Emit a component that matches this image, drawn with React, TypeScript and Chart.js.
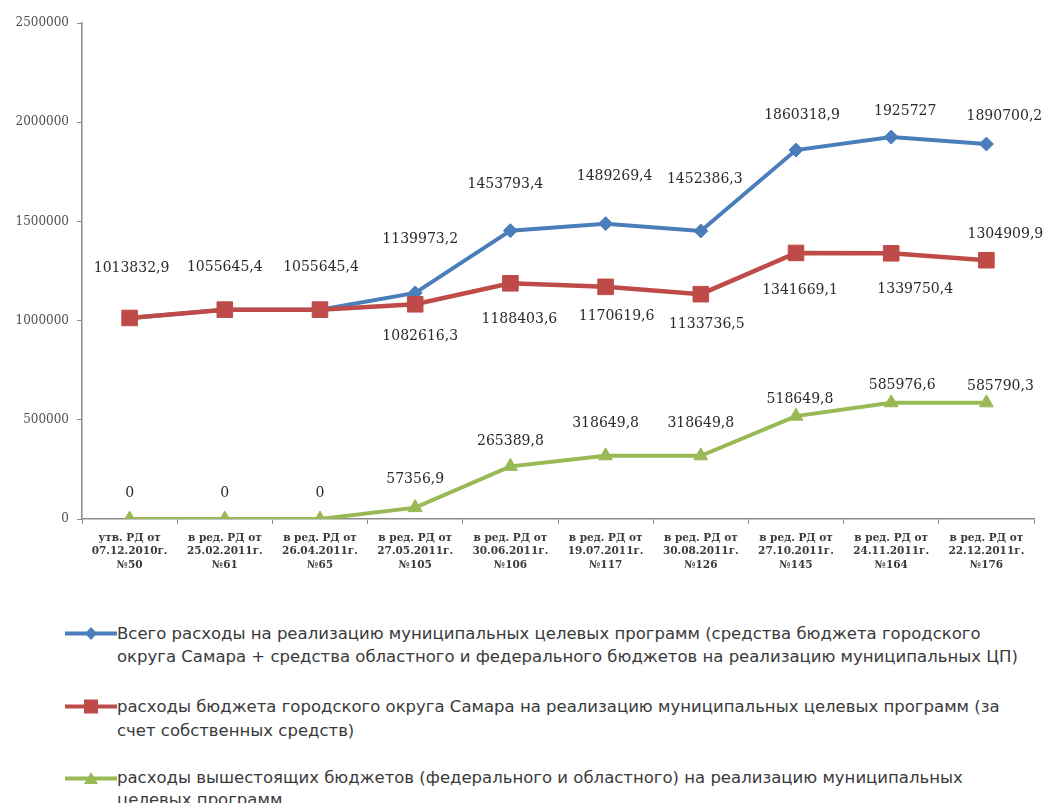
import React, { useEffect, useRef } from "react";
import { Chart, registerables } from "chart.js";

Chart.register(...registerables);

const categories: string[][] = [
  ["утв. РД от", "07.12.2010г.", "№50"],
  ["в ред. РД от", "25.02.2011г.", "№61"],
  ["в ред. РД от", "26.04.2011г.", "№65"],
  ["в ред. РД от", "27.05.2011г.", "№105"],
  ["в ред. РД от", "30.06.2011г.", "№106"],
  ["в ред. РД от", "19.07.2011г.", "№117"],
  ["в ред. РД от", "30.08.2011г.", "№126"],
  ["в ред. РД от", "27.10.2011г.", "№145"],
  ["в ред. РД от", "24.11.2011г.", "№164"],
  ["в ред. РД от", "22.12.2011г.", "№176"],
];

const totalValues = [
  1013832.9, 1055645.4, 1055645.4, 1139973.2, 1453793.4, 1489269.4, 1452386.3,
  1860318.9, 1925727, 1890700.2,
];
const cityValues = [
  1013832.9, 1055645.4, 1055645.4, 1082616.3, 1188403.6, 1170619.6, 1133736.5,
  1341669.1, 1339750.4, 1304909.9,
];
const upperValues = [
  0, 0, 0, 57356.9, 265389.8, 318649.8, 318649.8, 518649.8, 585976.6, 585790.3,
];

const yMin = 0;
const yMax = 2500000;
const yStep = 500000;

const legendTotal = [
  "Всего расходы на реализацию муниципальных целевых программ (средства бюджета городского",
  "округа Самара + средства областного и федерального бюджетов на реализацию муниципальных ЦП)",
];
const legendCity = [
  "расходы бюджета городского округа Самара на реализацию муниципальных целевых программ (за",
  "счет собственных средств)",
];
const legendUpper = [
  "расходы вышестоящих бюджетов (федерального и областного) на реализацию муниципальных",
  "целевых программ",
];

// label placement (pixel offsets from the point), styling only
const totalLabelOffsets: (number[] | null)[] = [
  [2, -50], [0, -42], [1, -42], [5, -54], [-5, -46], [9, -47], [4, -52], [6, -35], [14, -26], [18, -28],
];
const cityLabelOffsets: (number[] | null)[] = [
  null, null, null, [5, 32], [9, 36], [11, 30], [6, 30], [4, 37], [24, 36], [19, -26],
];
const upperLabelOffsets: (number[] | null)[] = [
  [0, -26], [0, -26], [0, -26], [0, -28], [0, -25], [0, -32], [0, -32], [4, -17], [11, -17], [14, -16],
];

const BLUE = "#4A7EBB";
const RED = "#BE4B48";
const GREEN = "#98B954";

const fmt = (v: number) => String(v).replace(".", ",");

const dataLabelPlugin = {
  id: "pointValueLabels",
  afterDatasetsDraw(chart: any) {
    const ctx = chart.ctx;
    const offsetsList = [totalLabelOffsets, cityLabelOffsets, upperLabelOffsets];
    ctx.save();
    ctx.font = '14px "DejaVu Serif"';
    ctx.fillStyle = "#2a2a2a";
    ctx.textAlign = "center";
    ctx.textBaseline = "middle";
    chart.data.datasets.forEach((ds: any, i: number) => {
      const meta = chart.getDatasetMeta(i);
      const offs = offsetsList[i];
      meta.data.forEach((pt: any, j: number) => {
        const o = offs[j];
        if (!o) return;
        ctx.fillText(fmt(ds.data[j]), pt.x + o[0], pt.y + o[1]);
      });
    });
    ctx.restore();
  },
};

function LegendMarker({ color, shape }: { color: string; shape: string }) {
  let m: React.ReactNode = null;
  if (shape === "diamond") {
    m = <polygon points="26,5 32,11.5 26,18 20,11.5" fill={color} />;
  } else if (shape === "square") {
    m = <rect x={19} y={4.5} width={14} height={14} fill={color} />;
  } else {
    m = <polygon points="26,5 33,17 19,17" fill={color} />;
  }
  return (
    <svg width={52} height={23} style={{ display: "block" }}>
      <line x1={0} y1={11.5} x2={52} y2={11.5} stroke={color} strokeWidth={4} />
      {m}
    </svg>
  );
}

function LegendItem({
  top,
  color,
  shape,
  lines,
  lineHeight,
}: {
  top: number;
  color: string;
  shape: string;
  lines: string[];
  lineHeight: number;
}) {
  return (
    <div style={{ position: "absolute", left: 57, top, display: "flex" }}>
      <LegendMarker color={color} shape={shape} />
      <div
        style={{
          fontFamily: '"DejaVu Sans", sans-serif',
          fontSize: 16.5,
          lineHeight: `${lineHeight}px`,
          color: "#3a3a3a",
          whiteSpace: "nowrap",
        }}
      >
        {lines.map((l, i) => (
          <div key={i}>{l}</div>
        ))}
      </div>
    </div>
  );
}

export default function App() {
  const canvasRef = useRef<HTMLCanvasElement | null>(null);

  useEffect(() => {
    if (!canvasRef.current) return;
    const chart = new Chart(canvasRef.current, {
      type: "line",
      data: {
        labels: categories,
        datasets: [
          {
            label: legendTotal.join(" "),
            data: totalValues,
            borderColor: BLUE,
            backgroundColor: BLUE,
            borderWidth: 4,
            pointStyle: "rectRot",
            pointRadius: 7,
            pointBorderWidth: 1,
            tension: 0,
            order: 1,
          },
          {
            label: legendCity.join(" "),
            data: cityValues,
            borderColor: RED,
            backgroundColor: RED,
            borderWidth: 4.5,
            pointStyle: "rect",
            pointRadius: 11,
            pointBorderWidth: 1,
            tension: 0,
            order: 0,
          },
          {
            label: legendUpper.join(" "),
            data: upperValues,
            borderColor: GREEN,
            backgroundColor: GREEN,
            borderWidth: 4,
            pointStyle: "triangle",
            pointRadius: 8,
            pointBorderWidth: 1,
            tension: 0,
            order: 2,
          },
        ],
      },
      options: {
        responsive: false,
        animation: false,
        layout: { padding: { top: 12, right: 11, left: 0, bottom: 0 } },
        plugins: {
          legend: { display: false },
          tooltip: { enabled: false },
        },
        scales: {
          x: {
            type: "category",
            offset: true,
            grid: {
              offset: true,
              drawOnChartArea: false,
              drawTicks: true,
              tickLength: 5,
              tickColor: "#8c8c8c",
            },
            border: { display: true, color: "#8c8c8c", width: 1.5 },
            ticks: {
              autoSkip: false,
              maxRotation: 0,
              minRotation: 0,
              padding: 7,
              color: "#3a3a3a",
              font: { family: '"DejaVu Serif"', size: 10.5, weight: "bold", lineHeight: 1.29 },
            },
            afterFit: (scale: any) => {
              scale.height = 79;
            },
          },
          y: {
            min: yMin,
            max: yMax,
            grid: {
              drawOnChartArea: false,
              drawTicks: true,
              tickLength: 5,
              tickColor: "#8c8c8c",
            },
            border: { display: true, color: "#8c8c8c", width: 1.5 },
            ticks: {
              stepSize: yStep,
              padding: 8,
              color: "#505050",
              font: { family: '"DejaVu Serif"', size: 12 },
              callback: (v: any) => String(v),
            },
            afterFit: (scale: any) => {
              scale.width = 74;
            },
          },
        },
      },
      plugins: [dataLabelPlugin],
    });
    return () => chart.destroy();
  }, []);

  return (
    <div style={{ position: "relative", width: 1038, height: 795 }}>
      <canvas
        ref={canvasRef}
        width={1038}
        height={590}
        style={{ position: "absolute", left: 0, top: 0, width: 1038, height: 590 }}
      />
      <LegendItem top={613.5} color={BLUE} shape="diamond" lines={legendTotal} lineHeight={23} />
      <LegendItem top={686.5} color={RED} shape="square" lines={legendCity} lineHeight={24} />
      <LegendItem top={759} color={GREEN} shape="triangle" lines={legendUpper} lineHeight={22} />
    </div>
  );
}
